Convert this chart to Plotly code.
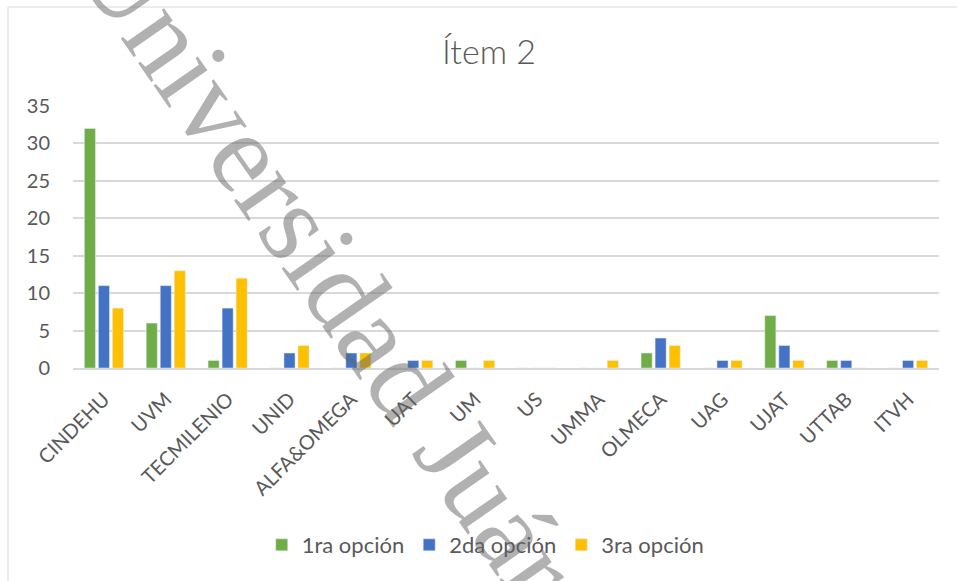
import plotly.graph_objects as go

categories = ["CINDEHU", "UVM", "TECMILENIO", "UNID", "ALFA&OMEGA", "UAT", "UM",
              "US", "UMMA", "OLMECA", "UAG", "UJAT", "UTTAB", "ITVH"]
opcion1 = [32, 6, 1, 0, 0, 0, 1, 0, 0, 2, 0, 7, 1, 0]
opcion2 = [11, 11, 8, 2, 2, 1, 0, 0, 0, 4, 1, 3, 1, 1]
opcion3 = [8, 13, 12, 3, 2, 1, 1, 0, 1, 3, 1, 1, 0, 1]
series_names = ["1ra opción", "2da opción", "3ra opción"]
colors = ["#70AD47", "#4472C4", "#FFC000"]
y_ticks = [0, 5, 10, 15, 20, 25, 30, 35]
title_text = "Ítem 2"
watermark = "Universidad Juárez"

W, H = 957, 581
ml, mr, mt, mb = 73, 18, 106, 213

fig = go.Figure()
for name, vals, col in zip(series_names, [opcion1, opcion2, opcion3], colors):
    fig.add_trace(go.Bar(x=categories, y=vals, name=name, marker_color=col))

pw = W - ml - mr
ph = H - mt - mb

def px_to_paper(xp, yp):
    return (xp - ml) / pw, (H - mb - yp) / ph

bx0, by0 = px_to_paper(8, 7)
bx1, by1 = px_to_paper(965, 595)
wx, wy = px_to_paper(357, 308)

fig.update_layout(
    width=W, height=H,
    margin=dict(l=ml, r=mr, t=mt, b=mb),
    paper_bgcolor="white", plot_bgcolor="white",
    barmode="group", bargap=0.32, bargroupgap=0.21,
    font=dict(family="Lato", color="#595959"),
    title=dict(text=title_text, x=489 / W, xanchor="center",
               y=1 - 52 / H, yanchor="middle",
               font=dict(family="Lato", size=34, color="#595959", weight=300)),
    showlegend=True,
    legend=dict(orientation="h", x=0.476, xanchor="center", y=px_to_paper(0, 545)[1],
                yanchor="middle", font=dict(size=22, color="#595959"),
                itemwidth=30, traceorder="normal"),
    xaxis=dict(tickangle=-45, tickfont=dict(size=20, color="#595959"),
               showgrid=False, showline=True, linecolor="#D9D9D9", linewidth=1.5,
               ticks="", fixedrange=True, ticklabelstandoff=10),
    yaxis=dict(range=[0, 35], tickvals=y_ticks, tickfont=dict(size=20, color="#595959"),
               showgrid=True, gridcolor="#D9D9D9", gridwidth=1.5, zeroline=False,
               showline=False, ticks="", ticklabelstandoff=22),
    shapes=[dict(type="rect", xref="paper", yref="paper", x0=bx0, y0=by1, x1=bx1, y1=by0,
                 line=dict(color="#D9D9D9", width=1), fillcolor="rgba(0,0,0,0)", layer="below")],
    annotations=[dict(text=watermark, xref="paper", yref="paper", x=wx, y=wy,
                      xanchor="center", yanchor="middle", showarrow=False, textangle=55,
                      font=dict(family="Liberation Serif", size=115, color="rgba(100,100,100,0.5)"))],
)

fig.write_html("out.html")
